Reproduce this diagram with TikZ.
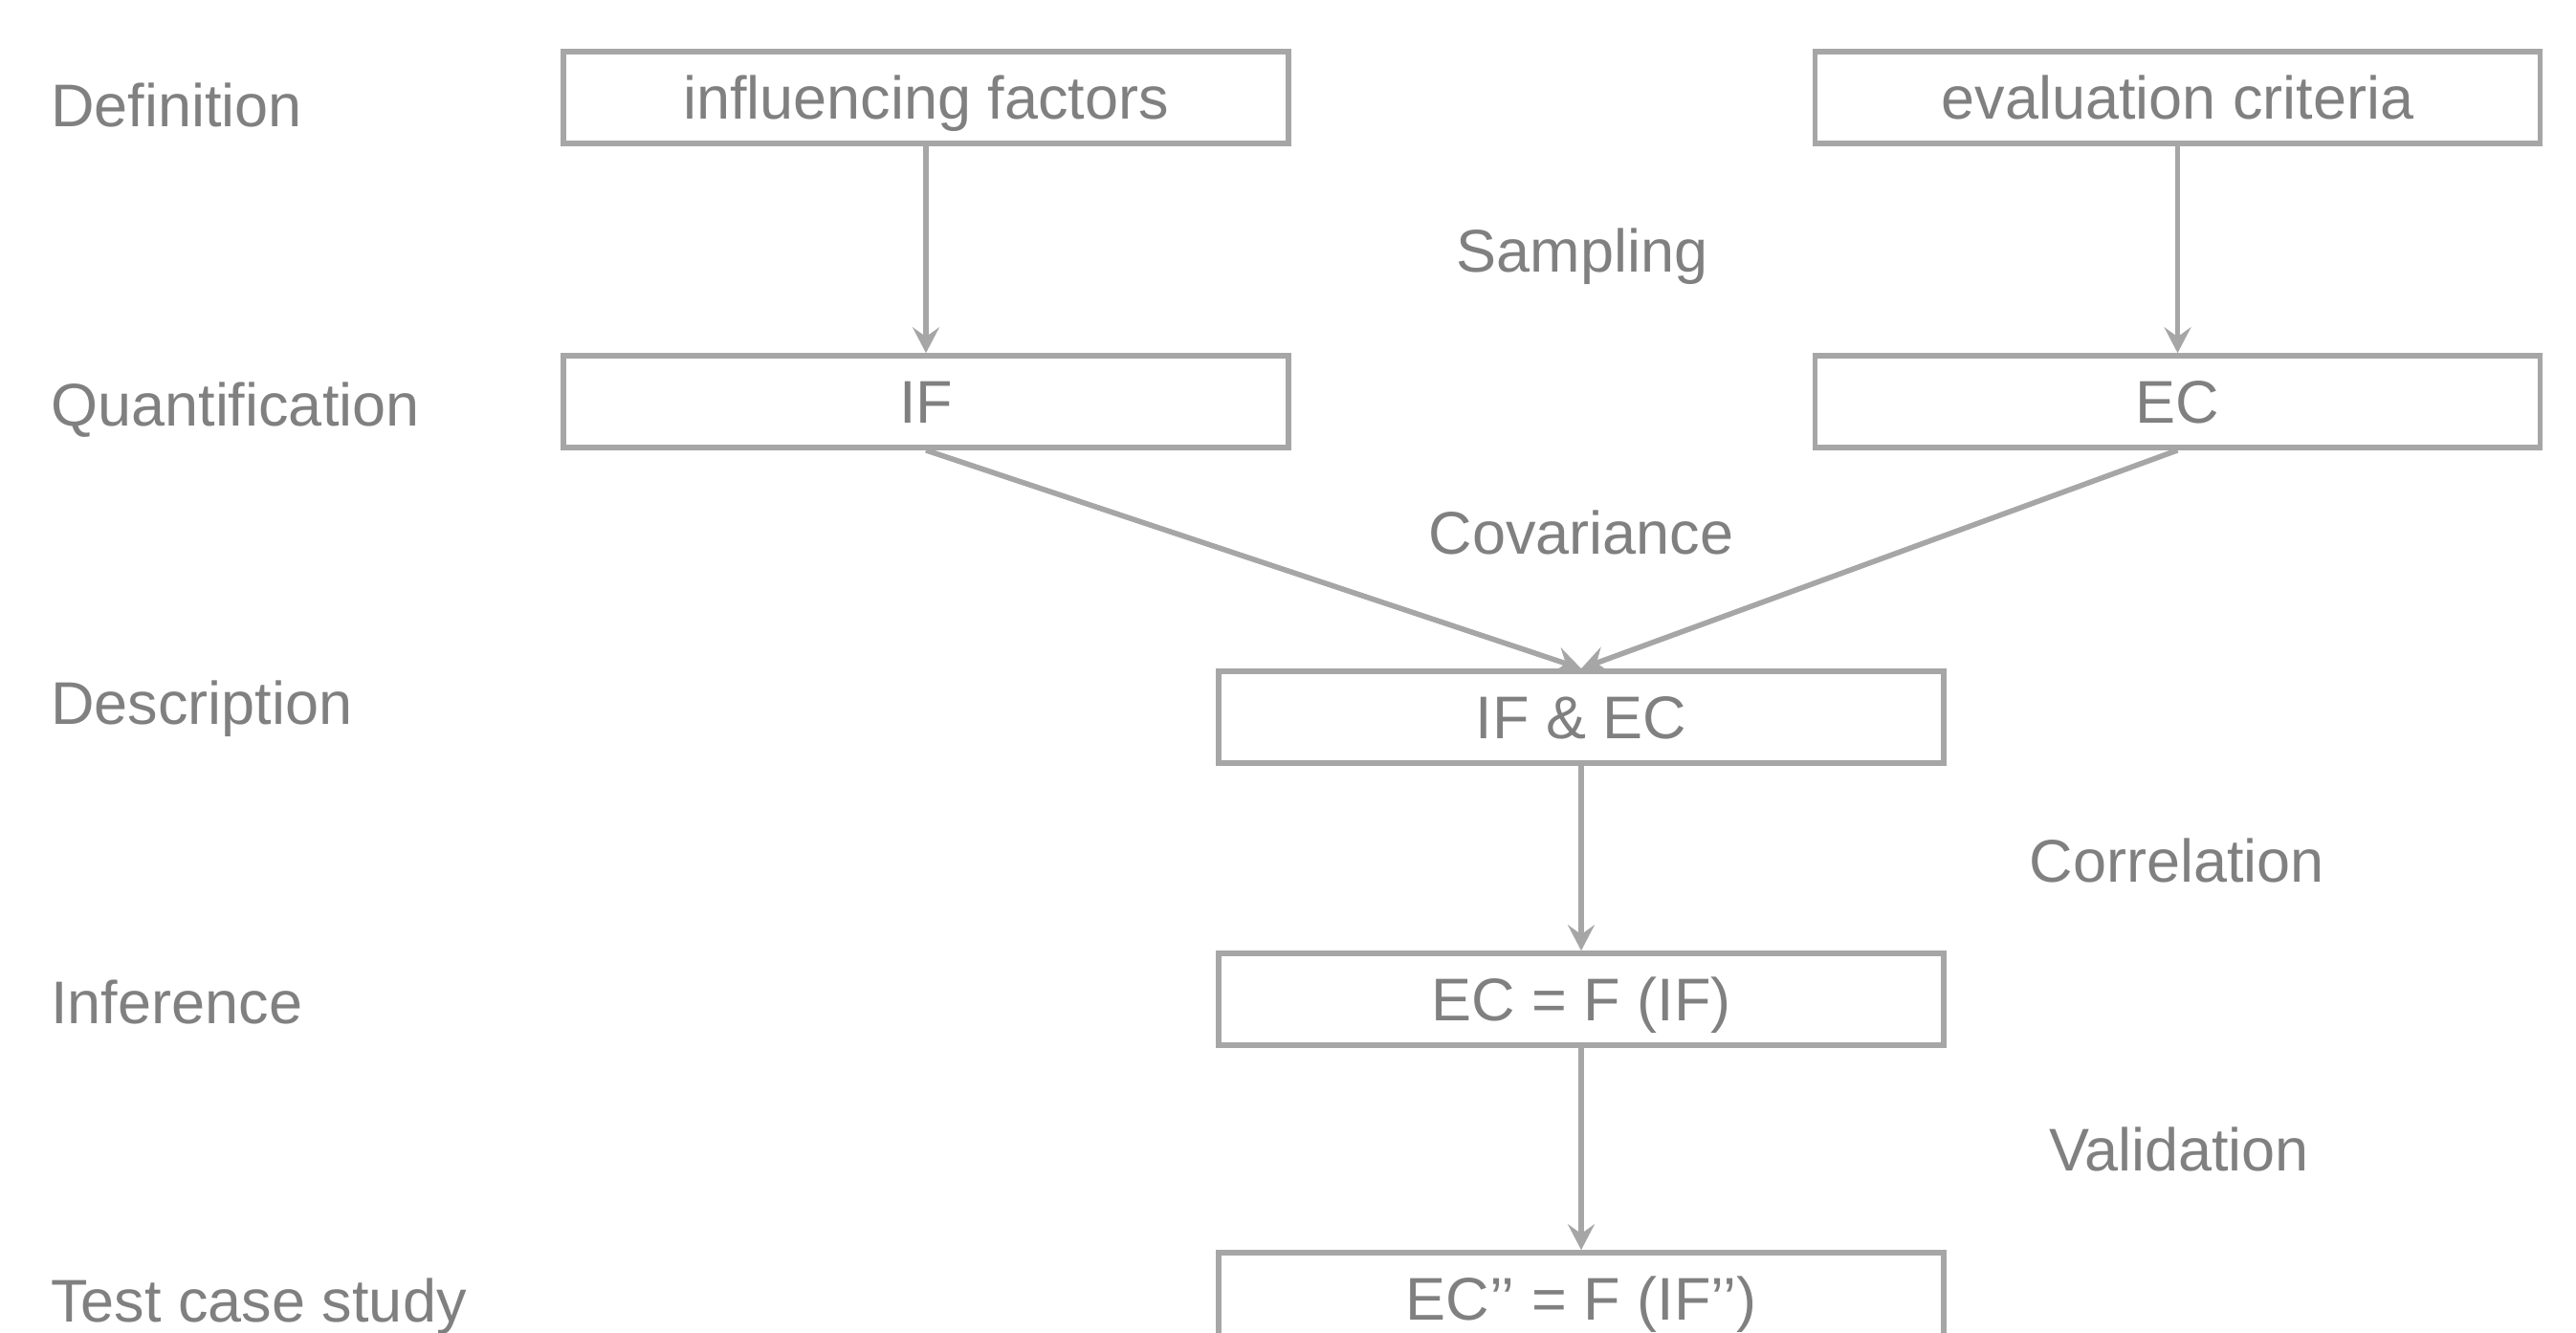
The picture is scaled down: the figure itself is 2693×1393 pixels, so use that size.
\documentclass[tikz,border=0pt]{standalone}
\usepackage{fontspec}
\setmainfont{Liberation Sans}
\usetikzlibrary{arrows.meta}
\definecolor{txtgray}{RGB}{128,128,128}
\definecolor{linegray}{RGB}{166,166,166}
\begin{document}
\begin{tikzpicture}[x=0.5pt,y=-0.5pt,
  every node/.style={font=\fontsize{31.5}{38}\selectfont, text=txtgray},
  stagebox/.style={draw=linegray, line width=2.8pt, minimum width=379pt, minimum height=48pt, inner sep=0pt, text height=22.5pt, text depth=0pt},
  lbl/.style={anchor=base west, inner sep=0pt},
  midlbl/.style={anchor=base, inner sep=0pt},
  conn/.style={draw=linegray, line width=2.8pt, -{Stealth[length=13.5pt, width=14pt, inset=5pt]}}
]
\useasboundingbox (0,0) rectangle (2693,1393);
\clip (0,0) rectangle (2693,1393);
% stage labels
\node[lbl] (ldef) at (53,132) {Definition};
\node[lbl] (lqua) at (53,445) {Quantification};
\node[lbl] (ldes) at (53,757) {Description};
\node[lbl] (linf) at (53,1070) {Inference};
\node[lbl] (ltes) at (53,1382) {Test case study};
% boxes
\node[stagebox] (inf) at (968,102) {influencing factors};
\node[stagebox] (eva) at (2276.5,102) {evaluation criteria};
\node[stagebox] (if) at (968,420) {IF};
\node[stagebox] (ec) at (2276.5,420) {EC};
\node[stagebox] (ifec) at (1653,750) {IF \& EC};
\node[stagebox] (fun) at (1653,1045) {EC = F (IF)};
\node[stagebox] (test) at (1653,1358) {EC’’ = F (IF’’)};
% middle labels
\node[midlbl] (samp) at (1654,284) {Sampling};
\node[midlbl] (cov) at (1653,579) {Covariance};
\node[midlbl] (corr) at (2276,922) {Correlation};
\node[midlbl] (val) at (2278,1224) {Validation};
% connectors
\draw[conn] (inf.south) -- (if.north);
\draw[conn] (eva.south) -- (ec.north);
\draw[conn] (if.south) -- (ifec.north);
\draw[conn] (ec.south) -- (ifec.north);
\draw[conn] (ifec.south) -- (fun.north);
\draw[conn] (fun.south) -- (test.north);
\end{tikzpicture}
\end{document}
